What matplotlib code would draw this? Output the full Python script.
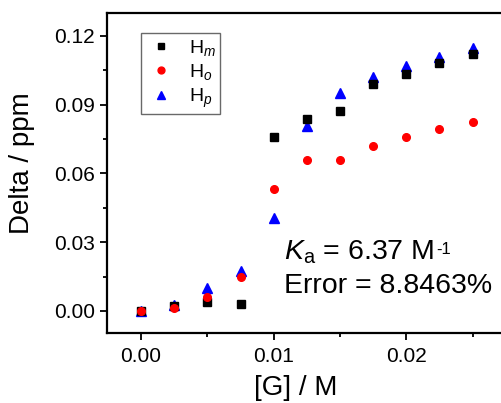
import numpy as np
import matplotlib
matplotlib.use('Agg')
import matplotlib.pyplot as plt
from matplotlib.ticker import MultipleLocator

plt.rcParams['font.family'] = ['Liberation Sans', 'DejaVu Sans']
plt.rcParams['mathtext.fontset'] = 'custom'
plt.rcParams['mathtext.rm'] = 'Liberation Sans'
plt.rcParams['mathtext.it'] = 'Liberation Sans:italic'

# concentration of guest
conc = [0.0, 0.0025, 0.005, 0.0075, 0.01, 0.0125, 0.015, 0.0175, 0.02, 0.0225, 0.025]
h_m = [0.000, 0.0020, 0.0038, 0.0029, 0.0758, 0.0838, 0.0874, 0.0991, 0.1034, 0.1081, 0.1121]
h_o = [0.000, 0.0014, 0.0060, 0.0150, 0.0532, 0.0658, 0.0658, 0.0721, 0.0758, 0.0793, 0.0825]
h_p = [0.000, 0.0024, 0.0101, 0.0174, 0.0405, 0.0807, 0.0951, 0.1022, 0.1067, 0.1108, 0.1149]

fig = plt.figure(figsize=(5.02, 4.03), dpi=100)
ax = fig.add_axes([107 / 502, 1 - 333 / 403, 420 / 502, 320 / 403])

ax.plot(conc, h_m, 's', color='black', ms=5.5, label='H$_m$', zorder=3)
ax.plot(conc, h_o, 'o', color='red', ms=5.5, label='H$_o$', zorder=3)
ax.plot(conc, h_p, '^', color='blue', ms=6.5, label='H$_p$', zorder=2)

ax.set_xlim(-0.00257, 0.0291)
ax.set_ylim(-0.0096, 0.130)
ax.xaxis.set_major_locator(MultipleLocator(0.01))
ax.xaxis.set_minor_locator(MultipleLocator(0.005))
ax.yaxis.set_major_locator(MultipleLocator(0.03))
ax.yaxis.set_minor_locator(MultipleLocator(0.015))
ax.xaxis.set_major_formatter(plt.FormatStrFormatter('%.2f'))
ax.yaxis.set_major_formatter(plt.FormatStrFormatter('%.2f'))

for s in ax.spines.values():
    s.set_linewidth(1.6)
ax.tick_params(which='both', direction='out', width=1.3, labelsize=15, top=False, right=False)
ax.tick_params(which='major', length=5)
ax.tick_params(which='minor', length=3)
ax.tick_params(axis='x', pad=5)

ax.set_xlabel('[G] / M', fontsize=20)
ax.set_ylabel('Delta / ppm', fontsize=20)
ax.xaxis.set_label_coords(0.45, -0.13)
ax.yaxis.set_label_coords(-0.171, 0.53)

leg = ax.legend(loc='upper left', bbox_to_anchor=(0.081, 0.9375), borderaxespad=0,
                fontsize=14, frameon=True, fancybox=False, edgecolor='#444444',
                handletextpad=0.6, labelspacing=0.22, borderpad=0.25, handlelength=1.6,
                markerscale=0.9)
leg.get_frame().set_linewidth(1.0)

t = ax.text(0.01079, 0.0223, r'$K_{\rm a}$ = 6.37 M', fontsize=20.5)
ax.annotate('-1', xy=(1, 1), xycoords=t, xytext=(1, -2), textcoords='offset points',
            va='top', ha='left', fontsize=12)
ax.text(0.01079, 0.00785, 'Error = 8.8463%', fontsize=20.5)

fig.savefig('out.png', dpi=100)
